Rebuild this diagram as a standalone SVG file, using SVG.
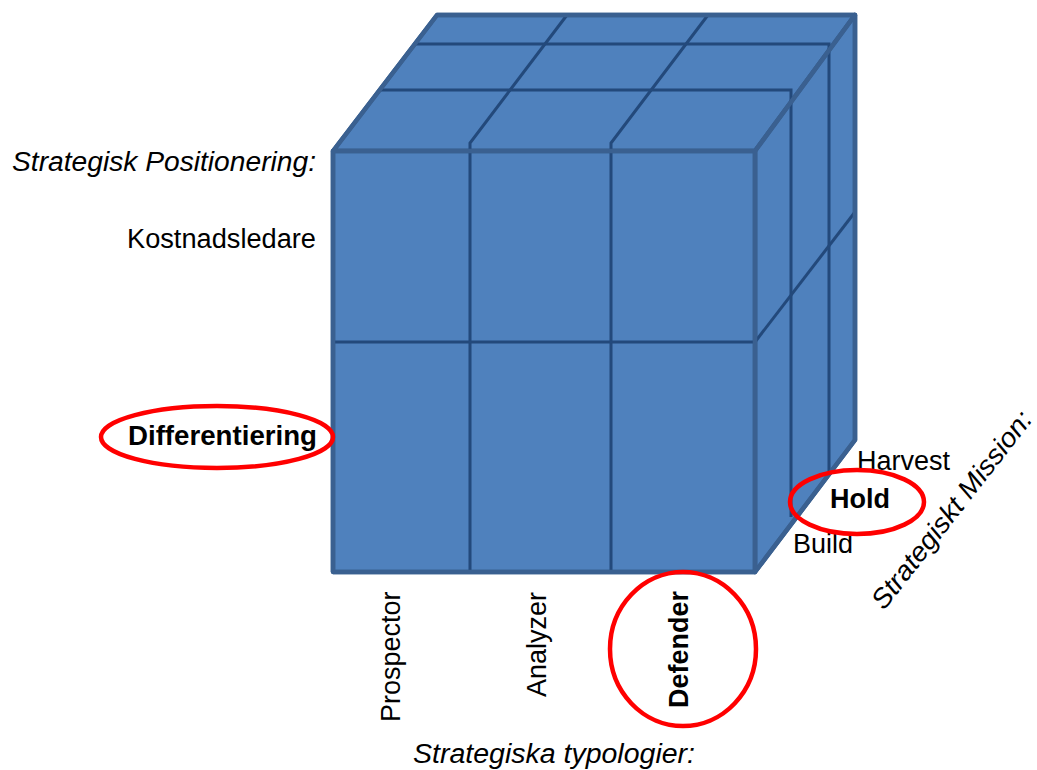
<svg xmlns="http://www.w3.org/2000/svg" width="1037" height="770" viewBox="0 0 1037 770">
  <style>
    .face { fill: #4F81BD; stroke: #3A6090; stroke-width: 4.5; stroke-linejoin: round; }
    .grid { fill: none; stroke: #23497B; stroke-width: 3; stroke-linejoin: miter; }
    .lbl { font-family: "Liberation Sans", Arial, sans-serif; font-size: 27px; fill: #000; }
    .it { font-style: italic; }
    .b { font-weight: bold; }
    .mark { fill: none; stroke: #FF0000; stroke-width: 4.5; }
  </style>

  <!-- the cube -->
  <g id="cube">
    <polygon class="face" points="333,151 437,15 855,15 755,151"/>
    <polygon class="face" points="755,151 855,15 855,440 755,572"/>
    <rect class="face" x="333" y="151" width="422" height="421"/>
    <!-- grid lines -->
    <g class="grid">
      <polyline points="470,572 470,143 567,15"/>
      <polyline points="611,572 611,143 708,15"/>
      <line x1="333" y1="342" x2="755" y2="342"/>
      <polyline points="380,90 791,90 791,517"/>
      <polyline points="415,44 829,44 829,471"/>
      <line x1="755" y1="342" x2="855" y2="212"/>
    </g>
    <!-- outer edges redrawn on top -->
    <g fill="none" stroke="#3A6090" stroke-width="4.5" stroke-linejoin="round">
      <polyline points="333,572 333,151 437,15 855,15 855,440 755,572 333,572"/>
      <polyline points="333,151 755,151 855,15"/>
      <line x1="755" y1="151" x2="755" y2="572"/>
    </g>
  </g>

  <!-- left axis: positioning -->
  <g id="axis-positioning">
    <text class="lbl it" x="316" y="171" text-anchor="end" textLength="304" lengthAdjust="spacingAndGlyphs">Strategisk Positionering:</text>
    <text class="lbl" x="316" y="248" text-anchor="end" textLength="189" lengthAdjust="spacingAndGlyphs">Kostnadsledare</text>
    <text class="lbl b" x="317" y="445" text-anchor="end" textLength="189" lengthAdjust="spacingAndGlyphs">Differentiering</text>
    <ellipse class="mark" cx="217" cy="437" rx="116" ry="31"/>
  </g>

  <!-- bottom axis: typologies -->
  <g id="axis-typologies">
    <text class="lbl" transform="translate(400,722) rotate(-90)">Prospector</text>
    <text class="lbl" transform="translate(546,697) rotate(-90)">Analyzer</text>
    <text class="lbl b" transform="translate(688,708) rotate(-90)">Defender</text>
    <ellipse class="mark" cx="683" cy="649" rx="73" ry="77"/>
    <text class="lbl it" x="554" y="763" text-anchor="middle" textLength="282" lengthAdjust="spacingAndGlyphs">Strategiska typologier:</text>
  </g>

  <!-- depth axis: mission -->
  <g id="axis-mission">
    <text class="lbl" x="857" y="470">Harvest</text>
    <text class="lbl b" x="830" y="508">Hold</text>
    <text class="lbl" x="793" y="553">Build</text>
    <ellipse class="mark" cx="857" cy="502" rx="67" ry="32"/>
    <text class="lbl it" transform="translate(884,611) rotate(-52)" textLength="243" lengthAdjust="spacingAndGlyphs">Strategiskt Mission:</text>
  </g>
</svg>
